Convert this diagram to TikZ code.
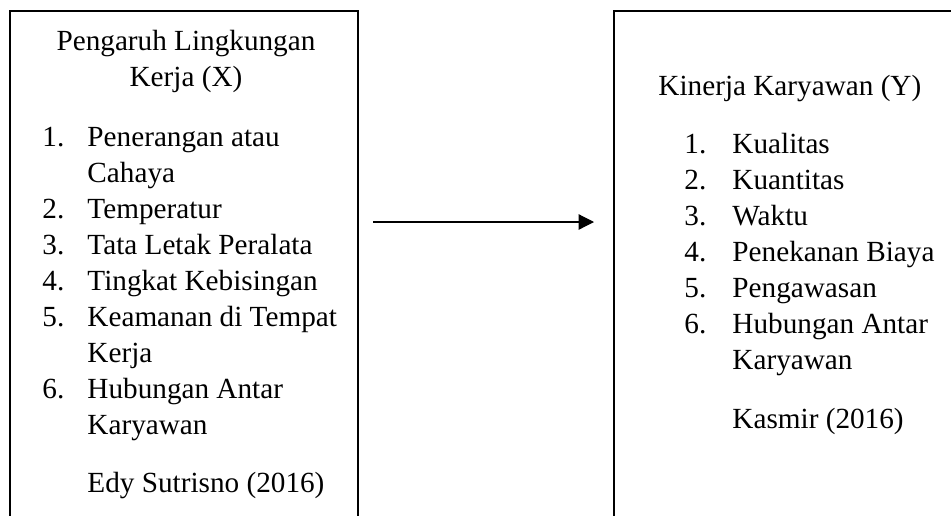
\documentclass[tikz,border=0pt]{standalone}
\usepackage{fontspec}
\setmainfont{Liberation Serif}
\usetikzlibrary{arrows.meta}
\begin{document}
\begin{tikzpicture}[x=0.421pt,y=-0.421pt,
  txt/.style={anchor=base west,inner sep=0pt,font=\fontsize{12.3}{14}\selectfont},
  ctxt/.style={anchor=base,inner sep=0pt,font=\fontsize{12.3}{14}\selectfont},
  frame/.style={line width=1.2pt},
  conn/.style={line width=0.5pt,-{Triangle[length=6.5pt,width=6.5pt]}}]
\useasboundingbox (0,0) rectangle (951,515);
% boxes (open at the bottom / right, cut by the page)
\draw[frame] (10,530) -- (10,11) -- (358,11) -- (358,530);
\draw[frame] (614,530) -- (614,11) -- (960,11);
% left box text
\node[ctxt] (lt1) at (186,50) {Pengaruh Lingkungan};
\node[ctxt] (lt2) at (186,86) {Kerja (X)};
\node[txt] (ln1) at (42,146) {1.};
\node[txt] (li1) at (87,146) {Penerangan atau};
\node[txt] (li1b) at (87,182) {Cahaya};
\node[txt] (ln2) at (42,218) {2.};
\node[txt] (li2) at (87,218) {Temperatur};
\node[txt] (ln3) at (42,254) {3.};
\node[txt] (li3) at (87,254) {Tata Letak Peralata};
\node[txt] (ln4) at (42,290) {4.};
\node[txt] (li4) at (87,290) {Tingkat Kebisingan};
\node[txt] (ln5) at (42,326) {5.};
\node[txt] (li5) at (87,326) {Keamanan di Tempat};
\node[txt] (li5b) at (87,362) {Kerja};
\node[txt] (ln6) at (42,398) {6.};
\node[txt] (li6) at (87,398) {Hubungan Antar};
\node[txt] (li6b) at (87,434) {Karyawan};
\node[txt] (lsrc) at (87,492) {Edy Sutrisno (2016)};
% right box text
\node[txt] (rt1) at (658,95) {Kinerja Karyawan (Y)};
\node[txt] (rn1) at (684,153) {1.};
\node[txt] (ri1) at (732,153) {Kualitas};
\node[txt] (rn2) at (684,189) {2.};
\node[txt] (ri2) at (732,189) {Kuantitas};
\node[txt] (rn3) at (684,225) {3.};
\node[txt] (ri3) at (732,225) {Waktu};
\node[txt] (rn4) at (684,261) {4.};
\node[txt] (ri4) at (732,261) {Penekanan Biaya};
\node[txt] (rn5) at (684,297) {5.};
\node[txt] (ri5) at (732,297) {Pengawasan};
\node[txt] (rn6) at (684,333) {6.};
\node[txt] (ri6) at (732,333) {Hubungan Antar};
\node[txt] (ri6b) at (732,369) {Karyawan};
\node[txt] (rsrc) at (732,428) {Kasmir (2016)};
% arrow
\coordinate (as) at (373,222);
\coordinate (ae) at (594,222);
\draw[conn] (as) -- (ae);
\end{tikzpicture}
\end{document}
